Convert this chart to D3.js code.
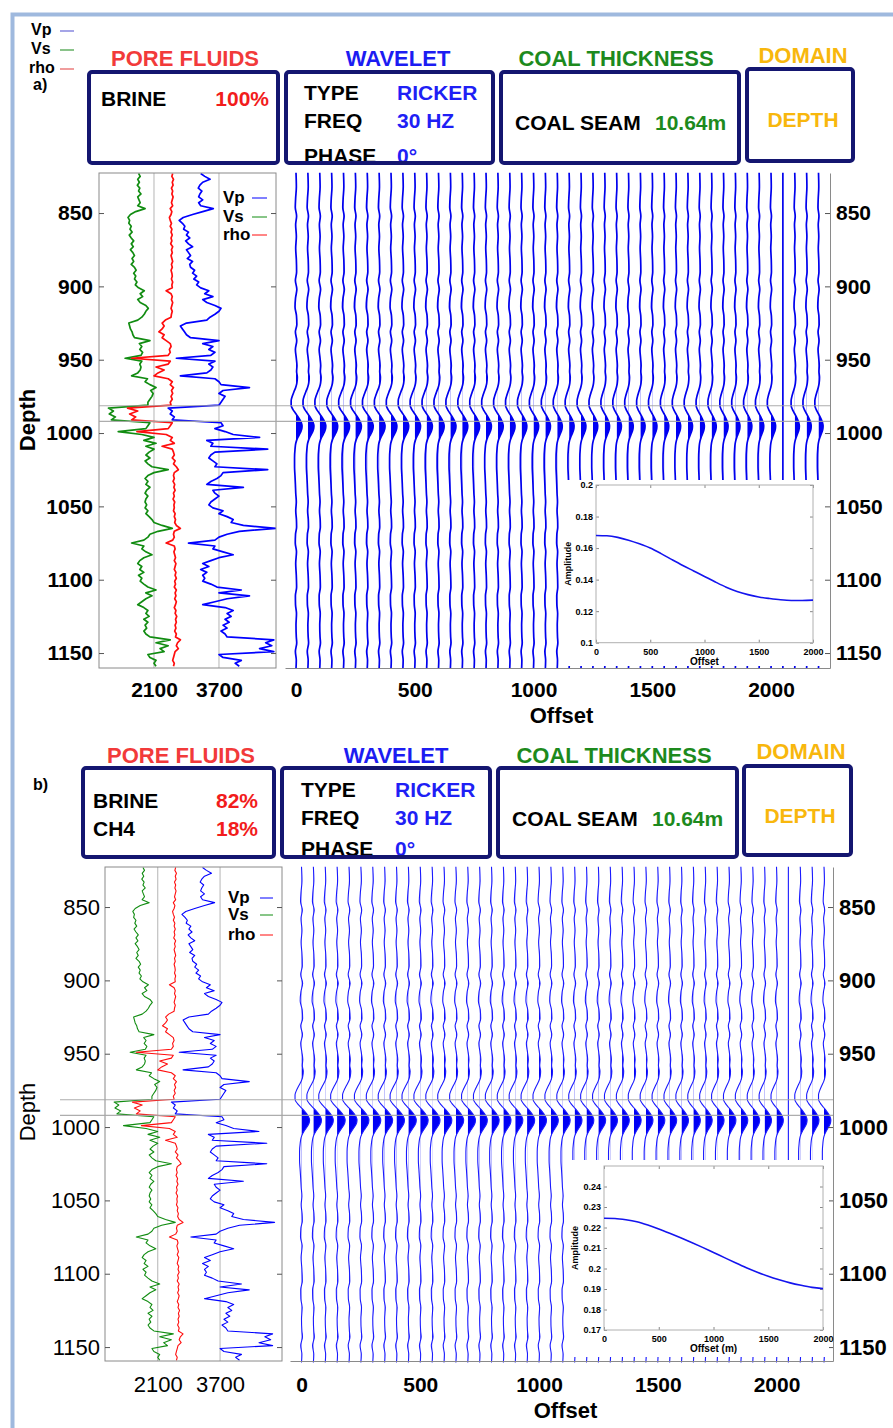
<!DOCTYPE html>
<html><head><meta charset="utf-8">
<script src="https://cdn.jsdelivr.net/npm/d3@7/dist/d3.min.js"></script>
<style>
html,body{margin:0;padding:0;background:#fff;}
svg{display:block;}
text{font-family:"Liberation Sans",Arial,Helvetica,sans-serif;}
</style></head><body>
<svg id="chart" width="893" height="1428"></svg>
<script>
// ================= DATA =================
const logDepth = [
 823,825,827,829,831, 833,835,837,839,841, 843,845,847,849,851, 853,855,857,859,861,
 863,865,867,869,871, 873,875,877,879,881, 883,885,887,889,891, 893,895,897,899,901,
 903,905,907,909,911, 913,915,917,919,921, 923,925,927,929,931, 933,935,937,939,941,
 943,945,947,949,951, 953,955,957,959,961, 963,965,967,969,971, 973,975,977,979,981,
 983,985,987,989,991, 993,995,997,999,1001, 1003,1005,1007,1009,1011, 1013,1015,1017,1019,1021,
 1023,1025,1027,1029,1031, 1033,1035,1037,1039,1041, 1043,1045,1047,1049,1051, 1053,1055,1057,1059,1061,
 1063,1065,1067,1069,1071, 1073,1075,1077,1079,1081, 1083,1085,1087,1089,1091, 1093,1095,1097,1099,1101,
 1103,1105,1107,1109,1111, 1113,1115,1117,1119,1121, 1123,1125,1127,1129,1131, 1133,1135,1137,1139,1141,
 1143,1145,1147,1149,1151, 1153,1155,1157,1159
];
const vpLog = [
 3250,3350,3480,3300,3230, 3190,3280,3230,3200,3300, 3200,3250,3560,3300,3050, 2820,2720,2800,2860,2830,
 2950,2900,2980,2880,2950, 3050,2900,2950,3000,2920, 3050,2980,3000,3100,3050, 3150,3080,3200,3150,3250,
 3450,3350,3550,3300,3400, 3600,3750,3700,3600,3480, 3400,2900,2750,2800,2850, 2900,3000,3700,3300,3550,
 3450,3600,3500,2650,3600, 3450,3550,3500,3400,2750, 3600,3700,3750,4450,3800, 3700,3850,3800,3750,3700,
 2450,2550,2500,2600,2550, 3750,3800,3600,3850,4050, 4700,3400,3550,3500,4900, 3600,3500,3450,3550,3650,
 3600,4900,3800,3750,3650, 3500,3400,4300,3550,3600, 3700,3600,3500,3450,3550, 3800,3700,3900,4050,4000,
 4300,5100,4200,3900,3700, 3600,2950,3600,3550,3800, 4050,3700,3500,3300,3450, 3250,3400,3300,3350,3300,
 3500,3650,4250,3700,4450, 3900,3600,3300,3850,4050, 3900,4000,3850,3950,3800, 3900,3750,3850,3900,5050,
 4850,5000,4700,5050,3700, 3800,4250,4100,4200
];
const vsLog = [
 1720,1760,1700,1740,1690, 1750,1720,1780,1700,1730, 1760,1700,1880,1650,1520, 1460,1500,1480,1540,1510,
 1560,1490,1540,1600,1540, 1590,1520,1580,1620,1560, 1600,1540,1620,1660,1600, 1650,1620,1680,1640,1720,
 1860,1760,1820,1700,1760, 1900,1960,1900,1860,1800, 1700,1480,1500,1520,1560, 1580,1620,2000,1740,1800,
 1750,1820,1780,1390,1800, 1750,1780,1760,1700,1550, 1940,1880,2000,2150,2020, 2080,2050,2000,1950,1950,
 980,1100,1000,1150,1050, 2000,1950,1900,1220,1800, 2100,1850,2150,1900,2100, 1980,1900,2000,1880,1950,
 2050,2450,2100,1950,1880, 1950,1900,2000,1920,1880, 1950,1900,1880,1920,1880, 1950,1900,1980,2050,2100,
 2300,2550,2200,2000,1950, 1850,1550,1850,1800,1900, 2050,1850,1750,1700,1800, 1750,1850,1720,1800,1760,
 1850,1950,2150,1900,2050, 1900,1800,1700,1850,1950, 1900,1980,1850,1950,1880, 1920,1850,1900,2000,2500,
 2150,2450,2250,2350,1950, 2000,2150,2100,2150
];
const rhoLog = [
 2560,2540,2580,2550,2570, 2530,2560,2540,2570,2550, 2530,2560,2500,2540,2520, 2480,2500,2530,2500,2540,
 2520,2550,2520,2540,2510, 2560,2530,2550,2520,2540, 2560,2530,2550,2520,2540, 2550,2530,2560,2540,2550,
 2400,2520,2550,2530,2560, 2540,2520,2550,2530,2520, 2380,2300,2350,2300,2220, 2350,2300,2400,2500,2520,
 2480,2500,2450,1550,2500, 2450,2150,2350,2200,2100, 2450,2550,2500,2580,2530, 2560,2520,2550,2500,2520,
 1450,1700,1500,1650,1550, 2550,2500,2450,1680,2400, 2550,2500,2600,2300,2550, 2580,2600,2550,2620,2580,
 2650,2700,2600,2580,2600, 2570,2610,2590,2620,2580, 2600,2570,2610,2590,2600, 2580,2620,2600,2630,2610,
 2650,2750,2600,2580,2600, 2560,2400,2600,2620,2590, 2610,2630,2600,2640,2620, 2600,2640,2620,2650,2610,
 2630,2600,2650,2620,2640, 2610,2650,2630,2600,2640, 2620,2660,2630,2650,2620, 2640,2610,2650,2630,2750,
 2680,2650,2700,2620,2600, 2580,2560,2600,2580
];
const logNames = ["Vp","Vs","rho"];
const coalTop = 981.4;
const coalThickness = 10.64;

const traceOffsets = [0,50,100,150,200,250,300,350,400,450,500,550,600,650,700,750,800,850,900,950,
 1000,1050,1100,1150,1200,1250,1300,1350,1400,1450,1500,1550,1600,1650,1700,1750,1800,1850,1900,1950,
 2000,2050,2100,2150,2200];
const deadTraces = [2050];
// normalised synthetic trace (depth in m, amplitude relative to base-of-coal peak)
const waveDepth = [822.5,832,840,846,852,858,866,874,882,890,896,902,908,914,920,926,931,937,943,949,
 954,958,962,966,969,972,975,978,981,984,986.5,989,991,993,995,997,999,1001,1003,1005,
 1007,1011,1017,1023,1029,1035,1041,1047,1053,1059,1064,1069,1075,1081,1089,1097,1105,1111,1117,1123,
 1131,1139,1143,1149,1155,1160.5];
const waveAmp = [0,0.06,-0.06,-0.12,0.1,-0.06,0.06,-0.05,0.06,0.1,-0.1,0.14,-0.08,-0.16,0.08,0.14,-0.1,0.12,-0.1,0.05,
 0.16,0.1,0.22,0.14,-0.05,-0.35,-0.62,-0.8,-0.8,-0.5,-0.08,0.35,0.65,0.88,1.0,0.96,0.8,0.55,0.3,0.1,
 -0.04,-0.16,-0.24,-0.24,-0.17,-0.1,-0.04,0.05,-0.04,0.07,0.1,-0.08,-0.12,0.08,-0.05,0.05,0.1,-0.1,-0.08,0.08,
 0,0.05,0.12,-0.1,0.05,0];

const avoOffset = [0,100,200,300,400,500,600,700,800,900,1000,1100,1200,1300,1400,1500,1600,1700,1800,1900,2000];
const avoBrine = [0.168,0.1678,0.1668,0.165,0.1627,0.16,0.1565,0.1527,0.149,0.1455,0.142,0.1385,0.1352,0.1325,0.1305,0.129,0.128,0.1272,0.1268,0.1268,0.127];
const avoGas = [0.2245,0.2244,0.2238,0.2228,0.2212,0.2193,0.2172,0.215,0.2127,0.2103,0.2078,0.2053,0.2028,0.2004,0.1982,0.1962,0.1945,0.193,0.1918,0.1908,0.1902];

const depthTicks = [850,900,950,1000,1050,1100,1150];
const offsetTicks = [0,500,1000,1500,2000];
const logTicks = [2100,3700];
const insetXTicks = [0,500,1000,1500,2000];
const insetYTicksA = [0.1,0.12,0.14,0.16,0.18,0.2];
const insetYTicksB = [0.17,0.18,0.19,0.2,0.21,0.22,0.23,0.24];

const headerTitles = ["PORE FLUIDS","WAVELET","COAL THICKNESS","DOMAIN"];
const fluidsA = [["BRINE","100%"]];
const fluidsB = [["BRINE","82%"],["CH4","18%"]];
const waveletRows = [["TYPE","RICKER"],["FREQ","30 HZ"],["PHASE","0°"]];
const coalRow = ["COAL SEAM","10.64m"];
const domainValue = "DEPTH";

// ================= LAYOUT / STYLE =================
const W = 893, H = 1428;
const fmtInt = d3.format("d");
const logColors = ["#0000ff","#118c11","#ff0d0d"];
const titleColors = ["#f23a3a","#1c1cf2","#1d8a1d","#f8b70d"];
const layouts = [
 {key:"a", fluids:fluidsA, avo:avoBrine, tag:"a)",
  hdr:{titleX:[185,398,616,803], titleY:66, domTitleY:63,
       boxes:[[89,72,278,163],[286,72,493,163],[501,72,739,163],[747,69,853,161]],
       fluidX:[101,269], fluidY:[106], wlX:[304,397], wlY:[100,128,163], coalX:[515,655], coalY:130,
       domX:803, domY:127, tag:[33,90]},
  top:173, bottom:668, depthDomain:[822.7,1160.2],
  logX:[99,276], logDomain:[746,5104], logW:1.7, bold:true, rightBold:true, depthPad:6, labelSize:21,
  seisX:[285,830], seisDomain:[-46.3,2248.4], traceW:1.7, traceColor:"#0000ee", gain:36,
  coalX0:99, legend:{x:223, y:[203,222,240], lineX:[252,267]},
  depthTitle:[35,420], labelY:697, offsetTitleY:723,
  inset:{bg:[562,480,823,666], plot:[596,485,813,642.7], yDomain:[0.1,0.2], yTicks:insetYTicksA,
         xLabel:"Offset", ampX:571}},
 {key:"b", fluids:fluidsB, avo:avoGas, tag:"b)",
  hdr:{titleX:[181,396,614,801], titleY:763, domTitleY:759,
       boxes:[[83,768,274,857],[282,768,490,857],[498,768,737,857],[744,766,851,855]],
       fluidX:[93,258], fluidY:[808,836], wlX:[301,395], wlY:[797,825,856], coalX:[512,652], coalY:826,
       domX:800, domY:823, tag:[33,790]},
  top:867, bottom:1361, depthDomain:[822.7,1159.5],
  logX:[105,282], logDomain:[745,5291], logW:1.1, bold:false, rightBold:true, depthPad:5, labelSize:22,
  seisX:[290,833], seisDomain:[-48.4,2237.9], traceW:1.1, traceColor:"#1a1aff", gain:36,
  coalX0:60, legend:{x:228, y:[903,920,940], lineX:[260,273]},
  depthTitle:[35,1112], labelY:1392, offsetTitleY:1418,
  inset:{bg:[565,1160,829,1357], plot:[604,1166,823,1330], yDomain:[0.17,0.25], yTicks:insetYTicksB,
         xLabel:"Offset (m)", ampX:578}}
];

// ================= DRAW =================
const svg = d3.select("#chart");
const defs = svg.append("defs");
svg.append("rect").attr("width",W).attr("height",H).attr("fill","#fff");
svg.append("path").attr("d","M12.5,1432V14.5H897").attr("fill","none")
   .attr("stroke","#9fb9de").attr("stroke-width",4);

function txt(g,x,y,s,o={}){
  return g.append("text").attr("x",x).attr("y",y).text(s)
   .attr("font-size",o.size||21).attr("font-weight",o.weight||700)
   .attr("fill",o.fill||"#000").attr("text-anchor",o.anchor||"start");
}
function styleAxis(sel,size,weight,keepDomain){
  if(!keepDomain) sel.select(".domain").remove();
  else sel.select(".domain").attr("stroke","#8a8a8a");
  sel.selectAll(".tick line").attr("stroke","#555");
  sel.selectAll("text").attr("font-size",size).attr("font-weight",weight)
     .attr("fill","#000").attr("font-family",'"Liberation Sans",Arial,sans-serif');
}

// outer legend (top-left, panel a)
const tl = svg.append("g");
const tlColors = ["#6a6ad8","#3c9a3c","#e65c5c"];
const tlY = [35,54,73];
logNames.forEach((n,i)=>{
  txt(tl, i===2?29:31, tlY[i], n, {size:16});
  tl.append("line").attr("x1",60).attr("x2",74).attr("y1",tlY[i]-4).attr("y2",tlY[i]-4)
    .attr("stroke",tlColors[i]).attr("stroke-width",1.2);
});

layouts.forEach(L=>{
  const g = svg.append("g");
  const Hd = L.hdr;
  // ---- header ----
  headerTitles.forEach((t,i)=>txt(g,Hd.titleX[i], i===3?Hd.domTitleY:Hd.titleY, t,
     {size:22, fill:titleColors[i], anchor:"middle"}));
  L.fluids.forEach((f,i)=>{
    txt(g,Hd.fluidX[0],Hd.fluidY[i],f[0]);
    txt(g,Hd.fluidX[1],Hd.fluidY[i],f[1],{fill:"#f21c1c",anchor:"end"});
  });
  waveletRows.forEach((r,i)=>{
    txt(g,Hd.wlX[0],Hd.wlY[i],r[0]);
    txt(g,Hd.wlX[1],Hd.wlY[i],r[1],{fill:"#1f1ff5"});
  });
  txt(g,Hd.coalX[0],Hd.coalY,coalRow[0]);
  txt(g,Hd.coalX[1],Hd.coalY,coalRow[1],{fill:"#1d8a1d"});
  txt(g,Hd.domX,Hd.domY,domainValue,{fill:"#f8b70d",anchor:"middle"});
  Hd.boxes.forEach(b=>g.append("rect").attr("x",b[0]).attr("y",b[1])
     .attr("width",b[2]-b[0]).attr("height",b[3]-b[1]).attr("rx",3)
     .attr("fill","none").attr("stroke","#141670").attr("stroke-width",4));
  txt(g,Hd.tag[0],Hd.tag[1],L.tag,{size:16});

  // ---- scales ----
  const ys = d3.scaleLinear().domain(L.depthDomain).range([L.top,L.bottom]);
  const lx = d3.scaleLinear().domain(L.logDomain).range(L.logX);
  const xs = d3.scaleLinear().domain(L.seisDomain).range(L.seisX);
  const avoS = d3.scaleLinear().domain(avoOffset).range(L.avo).clamp(true);

  // ---- log panel ----
  const clipLog = "clip-log-"+L.key;
  defs.append("clipPath").attr("id",clipLog).append("rect")
    .attr("x",L.logX[0]).attr("y",L.top).attr("width",L.logX[1]-L.logX[0]).attr("height",L.bottom-L.top);
  logTicks.forEach(v=>g.append("line").attr("x1",lx(v)).attr("x2",lx(v))
    .attr("y1",L.top).attr("y2",L.bottom).attr("stroke","#b5b5b5").attr("stroke-width",1));
  const lg = g.append("g").attr("clip-path","url(#"+clipLog+")");
  [vpLog,vsLog,rhoLog].forEach((s,i)=>{
    lg.append("path").datum(logDepth.map((d,j)=>[d,s[j]]))
      .attr("d",d3.line().x(p=>lx(p[1])).y(p=>ys(p[0])))
      .attr("fill","none").attr("stroke",logColors[i]).attr("stroke-width",L.logW)
      .attr("stroke-linejoin","round");
  });
  g.append("rect").attr("x",L.logX[0]).attr("y",L.top).attr("width",L.logX[1]-L.logX[0])
    .attr("height",L.bottom-L.top).attr("fill","none").attr("stroke","#8a8a8a").attr("stroke-width",1);
  const gL = g.append("g").attr("transform","translate("+L.logX[0]+",0)")
    .call(d3.axisLeft(ys).tickValues(depthTicks).tickFormat(fmtInt).tickSizeInner(-5).tickSizeOuter(0).tickPadding(L.depthPad));
  styleAxis(gL,L.labelSize,L.bold?700:400,false);
  const gLR = g.append("g").attr("transform","translate("+L.logX[1]+",0)")
    .call(d3.axisRight(ys).tickValues(depthTicks).tickSizeInner(-5).tickSizeOuter(0).tickFormat(""));
  styleAxis(gLR,10,400,false);
  const gLB = g.append("g").attr("transform","translate(0,"+L.bottom+")")
    .call(d3.axisBottom(lx).tickValues(logTicks).tickSize(0).tickFormat(fmtInt));
  styleAxis(gLB,L.labelSize,L.bold?700:400,false);
  gLB.selectAll("text").attr("y",L.labelY-L.bottom).attr("dy",0);
  // legend inside log panel
  logNames.forEach((n,i)=>{
    txt(g,L.legend.x,L.legend.y[i],n,{size:17});
    g.append("line").attr("x1",L.legend.lineX[0]).attr("x2",L.legend.lineX[1])
      .attr("y1",L.legend.y[i]-5).attr("y2",L.legend.y[i]-5)
      .attr("stroke",logColors[i]).attr("stroke-width",1);
  });
  // depth title
  g.append("text").attr("transform","translate("+L.depthTitle[0]+","+L.depthTitle[1]+") rotate(-90)")
    .attr("text-anchor","middle").attr("font-size",22).attr("font-weight",L.bold?700:400).text("Depth");

  // ---- seismic traces ----
  const tg = g.append("g");
  traceOffsets.forEach(o=>{
    const base = xs(o);
    const k = deadTraces.includes(o) ? 0 : avoS(o)*L.gain;
    const pts = waveDepth.map((d,i)=>({y:ys(d), x:base+waveAmp[i]*k}));
    const cid = "clip-t-"+L.key+"-"+o;
    defs.append("clipPath").attr("id",cid).append("rect")
      .attr("x",base).attr("y",L.top).attr("width",30).attr("height",L.bottom-L.top);
    tg.append("path").attr("clip-path","url(#"+cid+")")
      .attr("d",d3.area().curve(d3.curveMonotoneY).y(p=>p.y).x0(base).x1(p=>p.x)(pts))
      .attr("fill","#0000f5");
    tg.append("path")
      .attr("d",d3.line().curve(d3.curveMonotoneY).x(p=>p.x).y(p=>p.y)(pts))
      .attr("fill","none").attr("stroke",L.traceColor).attr("stroke-width",L.traceW);
  });
  // coal seam boundaries
  [coalTop, coalTop+coalThickness].forEach(d=>{
    g.append("line").attr("x1",L.coalX0).attr("x2",L.seisX[1]).attr("y1",ys(d)).attr("y2",ys(d))
      .attr("stroke","#a5a5a5").attr("stroke-width",1.2).attr("opacity",0.9);
  });
  // seismic axes
  const gR = g.append("g").attr("transform","translate("+L.seisX[1]+",0)")
    .call(d3.axisRight(ys).tickValues(depthTicks).tickFormat(fmtInt).tickSizeInner(-5).tickSizeOuter(0).tickPadding(6));
  styleAxis(gR,L.labelSize,L.rightBold?700:400,true);
  const gB = g.append("g").attr("transform","translate(0,"+L.bottom+")")
    .call(d3.axisBottom(xs).tickValues(offsetTicks).tickFormat(fmtInt).tickSizeInner(0).tickSizeOuter(0));
  styleAxis(gB,21,700,true);
  gB.selectAll("text").attr("y",L.labelY-L.bottom).attr("dy",0);
  txt(g,(L.seisX[0]+L.seisX[1])/2+4,L.offsetTitleY,"Offset",{size:22,anchor:"middle"});

  // ---- inset AVO plot ----
  const I = L.inset;
  const ig = g.append("g");
  ig.append("rect").attr("x",I.bg[0]).attr("y",I.bg[1]).attr("width",I.bg[2]-I.bg[0])
    .attr("height",I.bg[3]-I.bg[1]).attr("fill","#fff");
  const ix = d3.scaleLinear().domain([0,2000]).range([I.plot[0],I.plot[2]]);
  const iy = d3.scaleLinear().domain(I.yDomain).range([I.plot[3],I.plot[1]]);
  const iyA = ig.append("g").attr("transform","translate("+I.plot[0]+",0)")
    .call(d3.axisLeft(iy).tickValues(I.yTicks).tickSizeInner(-3).tickSizeOuter(0).tickPadding(3).tickFormat(d=>String(d)));
  styleAxis(iyA,9,700,false);
  const iyR = ig.append("g").attr("transform","translate("+I.plot[2]+",0)")
    .call(d3.axisRight(iy).tickValues(I.yTicks).tickSizeInner(-3).tickSizeOuter(0).tickFormat(""));
  styleAxis(iyR,9,700,false);
  const ixA = ig.append("g").attr("transform","translate(0,"+I.plot[3]+")")
    .call(d3.axisBottom(ix).tickValues(insetXTicks).tickSizeInner(-3).tickSizeOuter(0).tickFormat(fmtInt));
  styleAxis(ixA,9,700,false);
  ixA.selectAll("text").attr("y",12).attr("dy",0);
  const ixT = ig.append("g").attr("transform","translate(0,"+I.plot[1]+")")
    .call(d3.axisTop(ix).tickValues(insetXTicks).tickSizeInner(-3).tickSizeOuter(0).tickFormat(""));
  styleAxis(ixT,9,700,false);
  [iyA,iyR,ixA,ixT].forEach(a=>a.selectAll("line").attr("stroke","#888"));
  ig.append("rect").attr("x",I.plot[0]).attr("y",I.plot[1]).attr("width",I.plot[2]-I.plot[0])
    .attr("height",I.plot[3]-I.plot[1]).attr("fill","none").attr("stroke","#b0b0b0").attr("stroke-width",1);
  ig.append("path").datum(avoOffset.map((o,i)=>[o,L.avo[i]]))
    .attr("d",d3.line().curve(d3.curveMonotoneX).x(p=>ix(p[0])).y(p=>iy(p[1])))
    .attr("fill","none").attr("stroke","#1414ee").attr("stroke-width",1.6);
  txt(ig,(I.plot[0]+I.plot[2])/2,I.plot[3]+22,I.xLabel,{size:10,anchor:"middle"});
  ig.append("text").attr("transform","translate("+I.ampX+","+((I.plot[1]+I.plot[3])/2)+") rotate(-90)")
    .attr("text-anchor","middle").attr("font-size",9).attr("font-weight",700).text("Amplitude");
});
</script>
</body></html>
